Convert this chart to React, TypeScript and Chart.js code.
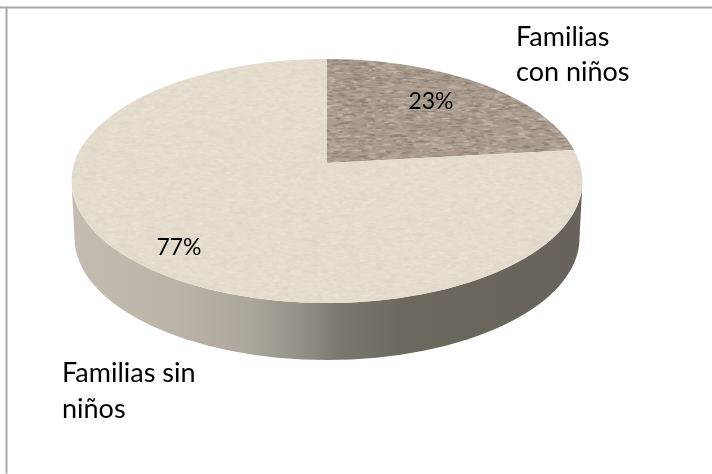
import React, { useEffect, useRef } from "react";
import { Chart, registerables } from "chart.js";

Chart.register(...registerables);

const categories = ["Familias con niños", "Familias sin niños"];
const shares = [23, 77];
const labelLinesA = ["Familias", "con niños"];
const labelLinesB = ["Familias sin", "niños"];

const FONT = "Lato, 'Open Sans', sans-serif";
const W = 712;
const H = 474;
const EX = 327; // ellipse centre
const EY = 181;
const RX = 255.5;
const RY = 122;
const DEPTH = 57;
const VX = 327; // wedge vertex
const VY = 163;
const SQUASH = 0.42;

function makeTexture(base: number[], amp: number, cellW: number, cellH: number, size = 128) {
  const c = document.createElement("canvas");
  c.width = size;
  c.height = size;
  const g = c.getContext("2d")!;
  let s = 12345;
  const next = () => {
    s = (s * 1103515245 + 12345) & 0x7fffffff;
    return (s >> 8) / 0x7fffff;
  };
  g.fillStyle = `rgb(${base.join(",")})`;
  g.fillRect(0, 0, size, size);
  const count = (size * size) / (cellW * cellH);
  for (let i = 0; i < count; i++) {
    const d = (next() - 0.5) * amp;
    const x = next() * size;
    const y = next() * size;
    g.fillStyle = `rgb(${base.map((v) => Math.round(v + d)).join(",")})`;
    g.fillRect(x, y, cellW * (0.6 + next()), cellH);
  }
  return g.createPattern(c, "repeat")!;
}

const pie3d = {
  id: "pie3d",
  beforeDraw(chart: any) {
    const { ctx } = chart;
    ctx.save();
    ctx.fillStyle = "#ffffff";
    ctx.fillRect(0, 0, W, H);
    ctx.fillStyle = "#a8a8a8";
    ctx.fillRect(0, 6.5, W, 2);
    ctx.fillRect(5.5, 6.5, 2, H - 7);
    ctx.restore();
  },
  beforeDatasetsDraw(chart: any) {
    const { ctx } = chart;
    const arc = chart.getDatasetMeta(0).data[0];
    ctx.save();
    // side wall
    const grad = ctx.createLinearGradient(EX - RX, 0, EX + RX, 0);
    grad.addColorStop(0, "#c2bdb0");
    grad.addColorStop(0.2, "#bab5a8");
    grad.addColorStop(0.36, "#aaa599");
    grad.addColorStop(0.47, "#8f8a80");
    grad.addColorStop(0.52, "#7d786e");
    grad.addColorStop(0.65, "#6d685e");
    grad.addColorStop(1, "#68635a");
    ctx.beginPath();
    ctx.ellipse(EX, EY, RX, RY, 0, 0, Math.PI);
    ctx.ellipse(EX, EY + DEPTH, RX - 3, RY, 0, Math.PI, 0, true);
    ctx.closePath();
    ctx.fillStyle = grad;
    ctx.fill();
    // top face: clip to the ellipse and draw the library's wedges
    ctx.beginPath();
    ctx.ellipse(EX, EY, RX, RY, 0, 0, Math.PI * 2);
    ctx.clip();
    const s = 1.6 * (RX / arc.outerRadius);
    ctx.translate(VX, VY);
    ctx.scale(s, s * SQUASH);
    ctx.translate(-arc.x, -arc.y);
  },
  afterDatasetsDraw(chart: any) {
    const { ctx } = chart;
    ctx.restore();
    const total = shares.reduce((a, b) => a + b, 0);
    ctx.save();
    ctx.fillStyle = "#000000";
    ctx.textBaseline = "alphabetic";
    ctx.font = `23px ${FONT}`;
    ctx.textAlign = "center";
    ctx.fillText(`${Math.round((shares[0] / total) * 100)}%`, 431, 109);
    ctx.fillText(`${Math.round((shares[1] / total) * 100)}%`, 179, 255);
    ctx.textAlign = "left";
    ctx.font = `27px ${FONT}`;
    labelLinesA.forEach((t, i) => ctx.fillText(t, 516, 46 + i * 35));
    labelLinesB.forEach((t, i) => ctx.fillText(t, 62, 382 + i * 36));
    ctx.restore();
  },
};

export default function App() {
  const ref = useRef<HTMLCanvasElement>(null);
  useEffect(() => {
    const chart = new Chart(ref.current!, {
      type: "pie",
      data: {
        labels: categories,
        datasets: [
          {
            data: shares,
            backgroundColor: [
              makeTexture([168, 155, 141], 60, 3, 2),
              makeTexture([227, 220, 205], 12, 2, 2),
            ],
            borderWidth: 0,
          },
        ],
      },
      options: {
        responsive: false,
        animation: false,
        devicePixelRatio: 1,
        plugins: { legend: { display: false }, tooltip: { enabled: false } },
      },
      plugins: [pie3d],
    });
    return () => chart.destroy();
  }, []);
  return (
    <div style={{ position: "absolute", left: 0, top: 0, width: W, height: H }}>
      <canvas ref={ref} width={W} height={H} style={{ display: "block" }} />
    </div>
  );
}
